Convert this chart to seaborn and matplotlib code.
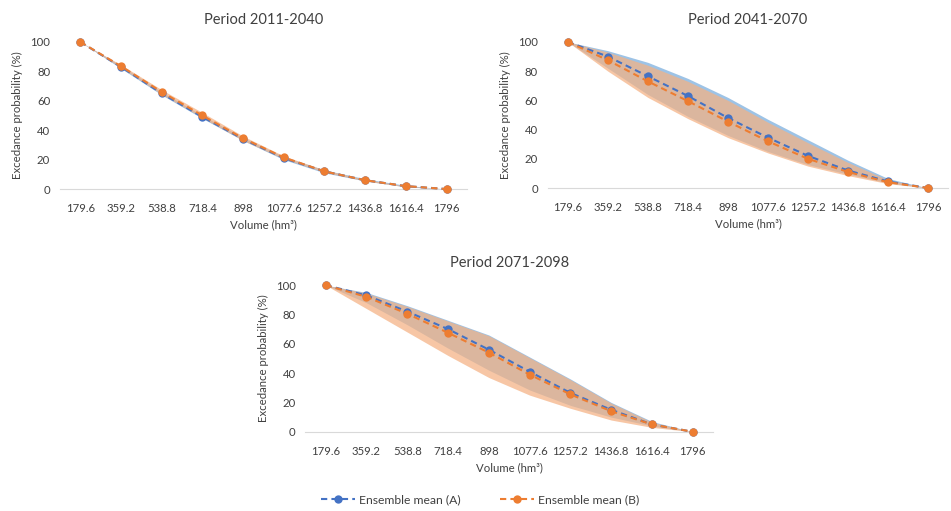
import numpy as np
import pandas as pd
import matplotlib
matplotlib.use("Agg")
import matplotlib.pyplot as plt
import seaborn as sns
from matplotlib.lines import Line2D

volumes = ["179.6", "359.2", "538.8", "718.4", "898", "1077.6", "1257.2", "1436.8", "1616.4", "1796"]
titles = ["Period 2011-2040", "Period 2041-2070", "Period 2071-2098"]

# Period 2011-2040
p1_a_mean = [100, 83, 65, 49, 34, 21, 12, 6, 2, 0]
p1_a_low = [100, 82, 64, 48, 33, 20, 11, 5.5, 1.5, 0]
p1_a_high = [100, 84, 66, 50, 35, 22, 13, 7, 2.5, 0]
p1_b_mean = [100, 83.5, 66, 50, 34.5, 21.5, 12, 6, 2, 0]
p1_b_low = [100, 82.5, 64.5, 48.5, 33, 20.5, 11.5, 5.5, 1.5, 0]
p1_b_high = [100, 84.5, 67.5, 52, 36, 22.5, 13, 6.5, 2, 0]

# Period 2041-2070
p2_a_mean = [100, 90, 76.5, 63, 48, 34.5, 22, 12, 4.5, 0]
p2_a_low = [100, 82, 64, 49, 36, 25, 16, 9.5, 3.5, 0]
p2_a_high = [100, 94, 86, 75, 62, 47, 33, 19, 6.5, 0]
p2_b_mean = [100, 87.5, 73, 59.5, 45.5, 32, 20, 11, 4, 0]
p2_b_low = [100, 80, 62, 47.5, 34.5, 24, 15, 8.5, 3, 0]
p2_b_high = [100, 93, 84, 73, 60, 45, 31, 17.5, 5.5, 0]

# Period 2071-2098
p3_a_mean = [100, 93, 82, 70, 56, 41, 26.5, 15, 5, 0]
p3_a_low = [100, 88, 73, 57, 42, 28.5, 18, 10, 4, 0]
p3_a_high = [100, 95, 86, 76, 66, 51, 36, 20, 7, 0]
p3_b_mean = [100, 92, 80.5, 67.5, 54, 39, 25.5, 14, 5, 0]
p3_b_low = [100, 84, 68, 52, 37, 25, 16, 8, 3, 0]
p3_b_high = [100, 94.5, 85.5, 75.5, 65.5, 50.5, 35.5, 19.5, 6.5, 0]

panels = [
    (p1_a_mean, p1_a_low, p1_a_high, p1_b_mean, p1_b_low, p1_b_high),
    (p2_a_mean, p2_a_low, p2_a_high, p2_b_mean, p2_b_low, p2_b_high),
    (p3_a_mean, p3_a_low, p3_a_high, p3_b_mean, p3_b_low, p3_b_high),
]

sns.set_theme(style="white")
plt.rcParams['font.family'] = ['Lato', 'DejaVu Sans']

BLUE = "#4472C4"
ORANGE = "#ED7D31"
BLUE_BAND = "#9DC3E6"
ORANGE_BAND = "#F4B183"
TXT = "#404040"
FS = 8.2

fig = plt.figure(figsize=(9.51, 5.11), dpi=100)
rects = [
    [0.063, 0.630, 0.428, 0.288],
    [0.576, 0.632, 0.421, 0.286],
    [0.321, 0.155, 0.429, 0.287],
]

x = np.arange(len(volumes))
for rect, title, data in zip(rects, titles, panels):
    a_mean, a_low, a_high, b_mean, b_low, b_high = data
    ax = fig.add_axes(rect)
    ax.fill_between(x, a_low, a_high, color=BLUE_BAND, lw=0, zorder=1)
    ax.fill_between(x, b_low, b_high, color=ORANGE_BAND, alpha=0.72, lw=0, zorder=2)
    df = pd.DataFrame({"x": np.concatenate([x, x]),
                       "y": list(a_mean) + list(b_mean),
                       "s": ["A"] * len(x) + ["B"] * len(x)})
    sns.lineplot(data=df, x="x", y="y", hue="s", palette={"A": BLUE, "B": ORANGE},
                 marker="o", markersize=6, markeredgewidth=0, linewidth=1.5,
                 legend=False, ax=ax, zorder=3)
    for line in ax.lines:
        line.set_linestyle((0, (3, 2)))
        line.set_clip_on(False)
    ax.set_xlim(-0.5, len(volumes) - 0.5)
    ax.set_ylim(0, 100)
    ax.set_yticks([0, 20, 40, 60, 80, 100])
    ax.set_xticks(x)
    ax.set_xticklabels(volumes)
    ax.tick_params(axis="both", labelsize=FS, colors=TXT, length=0)
    ax.tick_params(axis="x", pad=10)
    ax.tick_params(axis="y", pad=7)
    for s in ["top", "right", "left"]:
        ax.spines[s].set_visible(False)
    ax.spines["bottom"].set_color("#D9D9D9")
    ax.spines["bottom"].set_linewidth(0.8)
    ax.set_xlabel("Volume (hm³)", fontsize=8.2, color=TXT, labelpad=4)
    ax.set_ylabel("Excedance probability (%)", fontsize=8.2, color=TXT, labelpad=5)
    ax.set_title(title, fontsize=10.5, color=TXT, pad=13)

handles = [
    Line2D([0], [0], color=BLUE, ls=(0, (3, 2)), lw=1.5, marker="o", markersize=6, markeredgewidth=0),
    Line2D([0], [0], color=ORANGE, ls=(0, (3, 2)), lw=1.5, marker="o", markersize=6, markeredgewidth=0),
]
leg = fig.legend(handles, ["Ensemble mean (A)", "Ensemble mean (B)"], loc="center",
                 bbox_to_anchor=(0.505, 0.022), ncol=2, frameon=False, fontsize=8.7,
                 handlelength=2.8, handletextpad=0.4, columnspacing=3.2, labelcolor=TXT)

fig.savefig("out.png", dpi=100, facecolor="white")
